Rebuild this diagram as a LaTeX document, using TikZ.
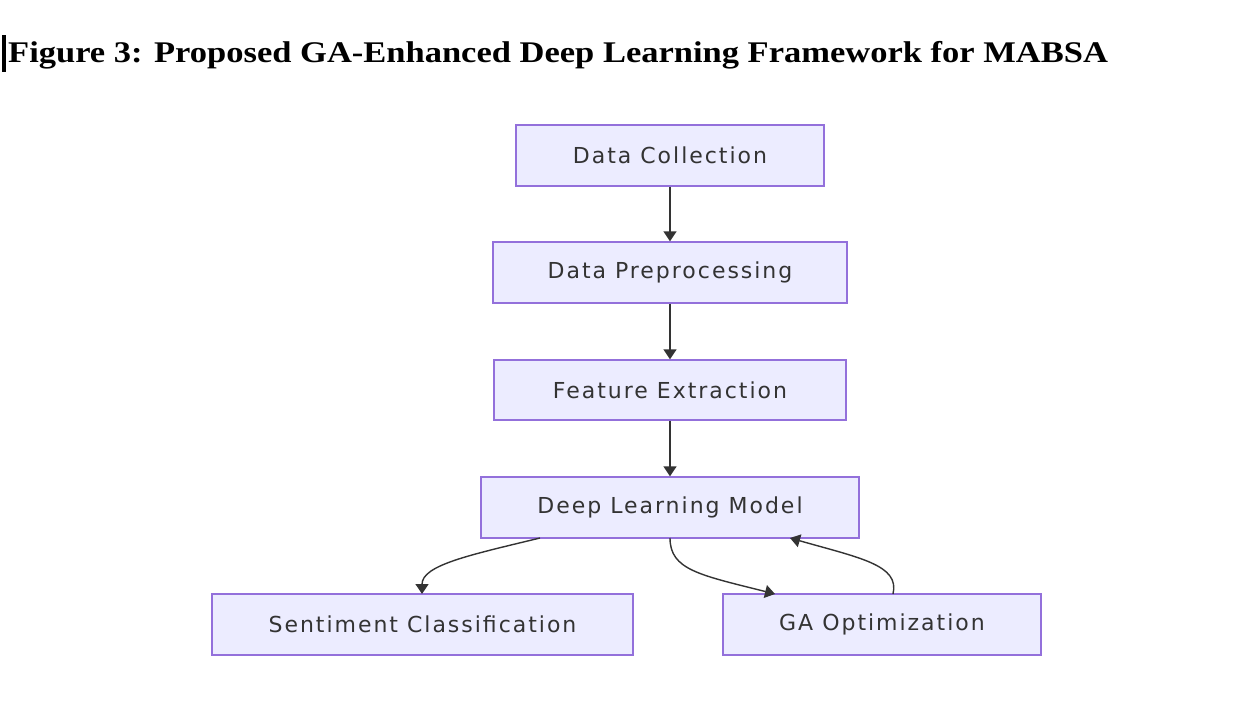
\documentclass[tikz,border=0pt]{standalone}
\usepackage{fontspec}
\setmainfont{Liberation Serif}
\newfontfamily\titlefont[FakeStretch=1.15]{Liberation Serif}
\newfontfamily\boxfont[LetterSpace=9]{DejaVu Sans}
\usetikzlibrary{arrows.meta}
\definecolor{boxfill}{HTML}{ECECFF}
\definecolor{boxline}{HTML}{9370DB}
\definecolor{txt}{HTML}{333333}
\begin{document}
\begin{tikzpicture}[x=1pt,y=-1pt,
  stepbox/.style={draw=boxline,fill=boxfill,line width=1.3pt,inner sep=0pt,
    font=\boxfont\fontsize{22}{26}\selectfont,text=txt,anchor=center},
  conn/.style={draw=txt,line width=1.4pt,-{Triangle[length=10pt,width=13pt]}}]
\useasboundingbox (0,0) rectangle (1244,708);
\fill[white] (0,0) rectangle (1244,708);
\fill[black] (2,35) rectangle (6,72);
\node[anchor=base west,font=\titlefont\bfseries\fontsize{30}{36}\selectfont,inner sep=0pt] (title) at (8,63) {Figure 3: Proposed GA-Enhanced Deep Learning Framework for MABSA};
\node[stepbox,minimum width=308pt,minimum height=61pt] (dc) at (670,155.5) {Data Collection};
\node[stepbox,minimum width=354pt,minimum height=61pt] (dp) at (670,272.5) {Data Preprocessing};
\node[stepbox,minimum width=352pt,minimum height=60pt] (fe) at (670,390) {Feature Extraction};
\node[stepbox,minimum width=378pt,minimum height=61pt] (dl) at (670,507.5) {Deep Learning Model};
\node[stepbox,minimum width=421pt,minimum height=61pt] (sc) at (422.5,624.5) {Sentiment Classification};
\node[stepbox,minimum width=318pt,minimum height=61pt] (ga) at (882,624.5) {GA Optimization};
\draw[conn] (dc) -- (dp);
\draw[conn] (dp) -- (fe);
\draw[conn] (fe) -- (dl);
\coordinate (dl1) at (540,538);
\coordinate (sc1) at (422,594);
\draw[conn] (dl1) .. controls (470,555) and (422,565) .. (sc1);
\coordinate (dl2) at (670,538);
\coordinate (ga1) at (775,594);
\draw[conn] (dl2) .. controls (670,570) and (700,575) .. (ga1);
\coordinate (ga2) at (893,594);
\coordinate (dl3) at (790,538);
\draw[conn] (ga2) .. controls (900,565) and (860,558) .. (dl3);
\end{tikzpicture}
\end{document}
